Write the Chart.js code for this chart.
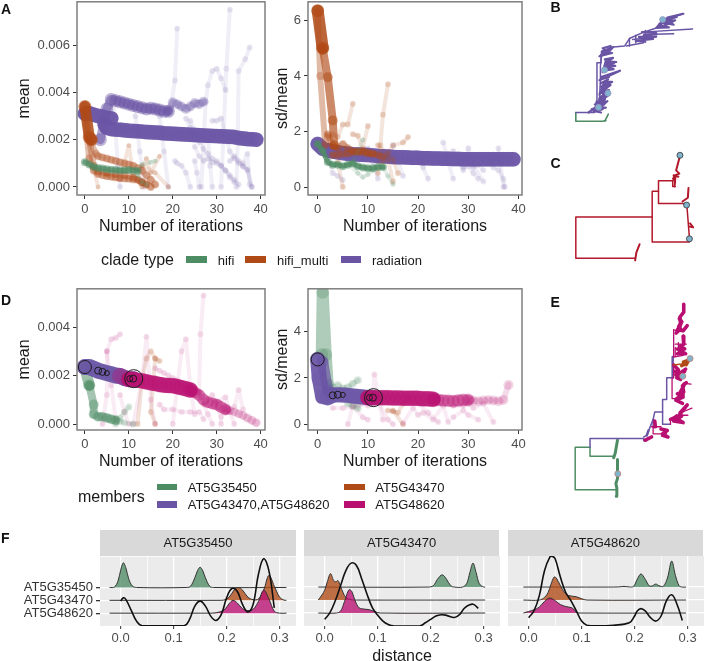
<!DOCTYPE html>
<html><head><meta charset="utf-8">
<script src="https://cdn.jsdelivr.net/npm/chart.js@4"></script>
<style>
html,body{margin:0;padding:0;background:#fff;width:710px;height:661px;overflow:hidden;font-family:"Liberation Sans",Arial,sans-serif}
canvas{position:absolute;filter:blur(.35px)}
.t{position:absolute;white-space:nowrap;color:#1a1a1a;line-height:1;transform:translateY(-50%);filter:blur(.25px)}
.l{font-weight:bold;font-size:14px;color:#111}
.s{position:absolute;width:20.5px;height:6.5px}
.strip{position:absolute;background:#D9D9D9;color:#1a1a1a;font-size:13px;text-align:center;filter:blur(.25px)}
</style></head><body>
<script>
/* ---------- colours ---------- */
const GREEN='78,140,100', ORANGE='176,74,22', PURPLE='106,85,165', MAGENTA='184,15,113', RED='178,24,43';

/* ---------- tick values ---------- */
const iterTicks=[0,10,20,30,40];
const meanTicksA=[0,0.002,0.004,0.006];
const sdTicksA=[0,2,4,6];
const meanTicksD=[0,0.002,0.004];
const sdTicksD=[0,2,4];
const distTicks=[0,0.05,0.1,0.15,0.2,0.25,0.3];
const ridgeNames=['AT5G48620','AT5G43470','AT5G35450'];
const cladeTypes=['hifi','hifi_multi','radiation'];
const memberNames=['AT5G35450','AT5G43470,AT5G48620','AT5G43470','AT5G48620'];

/* ---------- panel A: mean, clade type ---------- */
const aRadMain1=[[0,.0031],[1,.00312],[2,.00305],[3,.003],[4,.00297],[5,.00292],[6,.0029]];
const aRadMain2=[[4.5,.00265],[5,.0025],[6,.00245],[7,.00243],[8,.00242],[9,.0024],[10,.00238],[11,.00237],[12,.00236],[13,.00234],[14,.00232],[15,.00231],[16,.0023],[17,.00229],[18,.00227],[19,.00226],[20,.00225],[21,.00224],[22,.00223],[23,.00222],[24,.00221],[25,.0022],[26,.00219],[27,.00218],[28,.00217],[29,.00216],[30,.00215],[31,.00214],[32,.00213],[33,.00212],[34,.00211],[35,.00207],[36,.00205],[37,.00203],[38,.00202],[39,.002]];
const aRadArc=[[3.5,.002],[5,.0033],[6,.0037],[7,.00365],[8,.0036],[9,.00355],[10,.0035],[11,.00345],[12,.0034],[13,.00335],[14,.0033],[15,.00333],[16,.0033],[17,.00325],[18,.0032],[19,.0032]];
const aRadArc2=[[19,.0032],[20,.00358],[21,.0035],[22,.0034],[23,.0033],[24,.0034],[25,.00355],[26,.0035],[27,.0036]];
const aRadFaint=[
 [[19.5,.0033],[20.5,.0045],[21,.0067]],
 [[31,0],[31.5,.002],[32.2,.005],[33,.0075]],
 [[34.5,0],[34.8,.002],[35,.0049],[36.5,.0054],[37.5,.0059]],
 [[26.5,0],[27.5,.0036],[28,.0043],[29,.0049],[30,.005],[31,.0046],[32,.0041]],
 [[6.5,.0037],[7.5,.0009],[8,0]],
 [[11.5,.003],[12.5,.0015],[13.5,0]],
 [[17,.003],[18,.0015],[19,.0]],
 [[20.5,.0011],[21,.001],[22,.0009],[23,.0006],[24,0]],
 [[24,.0028],[25,.0024],[26,.0019],[27,.0016],[28,.0014],[29,.0012],[30,.0011],[31,.0009],[32,.0007],[33,.0005],[34,.0003],[35,.0001]],
 [[25,.0017],[26,.0013],[27,.0011],[28,.0012],[29,.00105],[30,.001],[31,.0009],[32,.0007],[33,.0004],[34,.0002]],
 [[29,.0028],[30,.0028],[31,.0029],[32,.0022],[33,.0015],[34,.0012],[35,.001],[36,.00085],[37,.00075],[38,0]],
 [[36,.001],[37,.0014],[37.5,.0001]],
 [[33,.0011],[34,.0013],[35,.0011],[36,.0009],[37,.0007],[38,0]],
 [[25,.0011],[25.5,.0006],[26,0]],
 [[28,.0022],[28.5,.0009],[29,0]],
 [[24,.0025],[23,.0029],[25,.002]]
];
const aOrangeBig=[[0,.0034],[1,.0021],[1.5,.002]];
const aOrangeMid=[
 [[0,.0033],[1,.002],[2.5,.0014],[3,.0013],[4,.00125],[5,.0012],[6,.00115],[7,.0011],[8,.00105],[9,.001],[10,.00095],[11,.0009],[12,.0008],[13,.0007],[14,.0005],[15,.0003],[16,.0001]],
 [[0,.0031],[1,.0012],[2,.0007],[3,.00055],[4,.0005],[5,.00045],[6,.00043],[7,.0004],[8,.00038],[9,.00036],[10,.00035],[11,.00032],[12,.0003],[13,.0002],[14,.0001]],
 [[1,.002],[2,.0009],[3,.00065],[5,.0006],[7,.00055],[9,.0005],[11,.0004],[13,.0002],[15,0]]
];
const aOrangeFaint=[
 [[2,.0008],[3,0]],
 [[5,.0005],[8,.0003],[10,.00175],[11,.0005],[13,0]],
 [[12,.0003],[14,.0012],[15,.0006],[17,.0013]],
 [[13,.0009],[16,.0006],[19,0]]
];
const aGreenMain=[[0,.00105],[1,.00095],[2,.00085],[3,.0008],[4,.00078],[5,.00075],[6,.00073],[7,.00072],[8,.0007],[9,.00071],[10,.00072],[11,.0007],[12,.00068]];
const aGreenFaint=[
 [[12,.0007],[13,.00095],[15,.00105],[16,.0011]],
 [[12,.0005],[13,.0002],[14,.0001]]
];

/* ---------- panel A2: sd/mean, clade type ---------- */
const bRadMain=[[0,1.55],[1,1.38],[2,1.32],[3,1.28],[4,1.25],[5,1.22],[6,1.2],[7,1.18],[8,1.17],[9,1.16],[10,1.15],[11,1.14],[12,1.12],[13,1.11],[14,1.1],[15,1.08],[16,1.07],[17,1.07],[18,1.06],[19,1.05],[20,1.05],[21,1.04],[22,1.04],[23,1.03],[24,1.03],[25,1.02],[26,1.02],[27,1.01],[28,1.01],[29,1],[30,1],[31,1],[32,1],[33,1],[34,1],[35,1],[36,1],[37,1],[38,1],[39,1]];
const bRadFaint=[
 [[1,1.5],[2,1.05],[3,.5],[4,.4],[5,.25]],
 [[10,1.4],[11,.9],[12,.3]],
 [[15,1.5],[16,1],[17,.4]],
 [[20,1.2],[21,.7],[22,.3]],
 [[25,1.6],[26,.9],[27,.3]],
 [[27,1.3],[28,.9],[29,.7],[30,.75],[31,.5],[32,.3]],
 [[28,1.1],[29,.6],[30,1.4],[31,.8],[33,.2]],
 [[30,.9],[31,.7],[32,.8],[33,.6]],
 [[34,1.1],[35,.7],[36,.6],[37,.3],[37.3,0]],
 [[36,1.4],[37,0]]
];
const bOrangeBig=[[0,6.35],[1,5]];
const bOrangeMid=[[1,5],[2,3.95],[3,2.4],[3.3,1.5]];
const bOrangeLow=[
 [[0,6.3],[0.5,4],[1.5,1.5],[2,1.8]],
 [[2,1.9],[3,1.5],[4,1.4],[5,1.55],[6,1.4],[7,1.3],[8,1.25],[9,1.25],[10,1.25],[11,1.2],[12,1.15],[13,1.1]],
 [[3,1.15],[4,1.15],[5,1.2],[6,1.2],[7,1.25],[8,1.3],[9,1.3],[10,1.2],[11,1.2]]
];
const bOrangeFaint=[
 [[3,1.9],[4,1.8],[5,2.25],[6,2.25],[7,3]],
 [[7,1.9],[8,1.85],[9,1.4],[10,2.2]],
 [[12,.5],[12.5,1.5],[13,2.6],[14,3.7]],
 [[12,1.5],[14,1.2],[15,1],[16,.5]],
 [[13,.9],[15,1.5],[17,1.6],[18,1.8]],
 [[14,1],[15,.2]],
 [[4,.9],[5,0]]
];
const bGreenMain=[[0,1.55],[1,1.3],[2,.9],[3,.8],[4,.8],[5,.75],[6,.8],[7,.85],[8,.75],[9,.7],[10,.68],[11,.68],[12,.72],[13,.72]];
const bGreenFaint=[
 [[6,.85],[8,.5],[9,.35],[10,.45],[11,.6],[13,.7],[14,.4],[15,.1]],
 [[7,.9],[9,1.7]]
];

/* ---------- panel D: mean, members ---------- */
const dPurpleMain=[[0,.00235],[1,.00235],[2,.00228],[3,.0022],[4,.00215],[5,.0021],[6,.00205],[7,.002],[8,.00198],[9,.0019],[10,.00185],[11,.00185]];
const dMagentaBlend=[[8,.00198],[9,.0019],[10,.00185]];
const dMagentaMain=[[10,.00185],[11,.00185],[12,.0018],[13,.00178],[14,.00174],[15,.0017],[16,.00167],[17,.00163],[18,.0016],[19,.00159],[20,.00158],[21,.00154],[22,.0015],[23,.00145],[24,.0014]];
const dMagentaMid=[[24,.0014],[25,.0013],[26,.0012],[27,.001],[28,.0009],[29,.00085],[30,.0008],[31,.0007],[32,.0006]];
const dMagentaTail=[[32,.0006],[33,.00055],[34,.0005],[35,.00042],[36,.00035],[37,.00025],[38,.00015],[39,.00005]];
const dMagentaFaint=[
 [[4,.0],[5,.0012],[5,.003],[6,.0035],[7,.00355],[8,.0037]],
 [[5,.003],[6,.0016],[7,.0002]],
 [[8,.0012],[9,.0005],[10,0]],
 [[11,.0],[13,.0018],[14,.0036],[15,.001],[16,0]],
 [[16,.0023],[17,.0022],[18,.0021],[19,.002],[20,.0019],[21,.0018],[22,.0017],[23,.0016]],
 [[17,.0008],[18,.0006],[20,.0006],[22,.0005],[24,.0005],[26,.0005],[27,.0002]],
 [[20,.0],[22,.003],[23,.0035],[24,.0015],[25,.0004]],
 [[24,.0016],[26,.0013],[26.3,.0037],[27,.0053]],
 [[26,.0013],[28,.0004],[29,.0]],
 [[30,.0009],[32,.0011],[33,.0005],[34,0]],
 [[32,.0005],[34,.0007],[35,.0014],[36,.0006]],
 [[27,.0008],[29,.0012],[31,.0003],[31,0]]
];
const dOrangeFaint=[
 [[12,0],[13,.0018],[14,.0027],[15,.003],[16,.0027],[17,.0026]],
 [[16,.0027],[15,.0005],[16,0]]
];
const dGreenBig=[[0,.0023],[1,.0016]];
const dGreenMid=[[1,.0016],[2,.0008],[2,.0004],[3,.0003],[4,.0003],[5,.00025],[6,.0002],[7,.00015]];
const dGreenFaint=[
 [[7,.0002],[8,.00025],[9,.0005],[10,.0007]],
 [[7,0],[8,.0001],[9,.00005],[11,0]]
];
const dCircles=[[0,.00235],[3,.0022],[4,.00215],[5,.0021],[10.2,.00187],[11,.00187],[11.1,.00187]];

/* ---------- panel D2: sd/mean, members ---------- */
const ePurpleMain=[[0,2.8],[0.3,2],[1,1.2],[2,1.15],[3,1.25],[4,1.28],[5,1.27],[6,1.25],[7,1.22],[8,1.2],[9,1.18],[10,1.15],[11,1.15]];
const ePurpleLight=[[1,2.7],[2,1.45],[3,1.35]];
const eMagentaMain=[[10,1.15],[11,1.15],[12,1.15],[13,1.15],[14,1.15],[15,1.14],[16,1.14],[17,1.13],[18,1.13],[19,1.13],[20,1.12],[21,1.1],[22,1.1],[23,1.08]];
const eMagentaMid=[[23,1.08],[24,1.05],[25,1.03],[26,1.02],[27,1],[28,1.03],[29,1.05],[30,1.05]];
const eMagentaTail=[[30,1.05],[31,1.02],[32,1],[33,1.03],[34,1.05],[35,1.03],[36,1],[37,1.05],[38,1.7]];
const eMagentaFaint=[
 [[3,.7],[5,.7],[7,.75],[8,.8],[9,.9],[10,.8],[11,1.3],[11.3,2.15],[12,1.2],[13,.2]],
 [[6,0],[7,.8],[9,.3],[10,.2]],
 [[12,1],[14,.2],[15,0]],
 [[17,.05],[19,.7],[20,.4],[21,.5],[23,.2],[25,.8],[26,.1]],
 [[27,.8],[29,.8],[30,.9],[31,.7],[33,.9],[35,.1]],
 [[20,.9],[22,.5],[24,.1]],
 [[27,.3],[29,.6],[30,.4],[32,.2]]
];
const eOrangeFaint=[
 [[14,.6],[15,.55],[16,.5],[17,.9],[18,1.1]],
 [[17,0],[15,.6]]
];
const eGreenBig=[[0.8,3],[1,5.7],[1.6,3],[2,1.7]];
const eGreenFaint=[
 [[2,1.7],[3,1.6],[4,1.7],[5,1.55],[6,1.6],[7,1.75],[8,1.9]],
 [[6,.9],[7,.8],[8,.7]]
];
const eCircles=[[0,2.8],[3,1.25],[4,1.28],[5,1.27],[10.3,1.15],[11,1.15],[11.1,1.15]];
const circleSizes=[6.5,3.5,3.5,2.5,3,3.5,9];

/* ---------- trees (branch position, tip rank) ---------- */
const treeBPurple=[
 [[130,335],[190,335],[195,300],[205,300],[207,250],[208,190],[212,155],[240,132],[285,128],[300,105],[345,85],[385,72],[405,48],[435,38],[472,28]],
 [[197,300],[197,180],[210,180],[210,155]],
 [[340,85],[500,75]],[[345,92],[440,90]],[[310,108],[385,100]],[[290,128],[345,118]],[[300,105],[300,128]],[[320,95],[320,118]],[[350,80],[350,105]]
];
const treeBTufts=[
 [[385,72],[400,55],[440,62],[410,45],[470,28],[420,40],[395,65],[425,70],[385,72]],
 [[395,60],[430,50],[405,68],[445,48],[400,52],[450,38]],
 [[340,85],[385,88],[345,96],[385,98],[330,100],[375,106],[320,112],[350,115]],
 [[205,160],[245,150],[212,145],[248,132],[225,155],[240,140],[210,155],[235,150],[215,135],[240,128]],
 [[208,158],[230,142],[212,150],[238,136]],
 [[215,210],[225,175],[258,178],[222,185],[255,190],[220,195],[250,200],[218,205]],
 [[222,170],[248,165],[226,180],[250,182],[224,192],[240,196]],
 [[205,235],[270,205],[210,225],[245,215],[208,232],[235,225]],
 [[205,280],[220,240],[245,240],[210,255],[240,250],[210,270],[235,265],[205,290],[235,280],[207,300],[220,285]],
 [[208,245],[232,232],[212,262],[228,258],[206,275],[226,272],[204,295],[222,292]],
 [[170,335],[200,315],[225,320],[180,325],[220,310],[190,310],[230,300],[195,330],[215,325]],
 [[192,318],[212,300],[196,305],[222,295],[186,330],[210,335]]
];
const treeBGreen=[[[130,335],[130,362],[215,362],[225,360]],[[222,362],[233,340]]];
const treeBDots=[[405,46],[221,203],[232,275],[202,319]];
const treeCRed=[
 [[318,788],[130,788],[130,660],[372,660],[372,580],[392,580],[392,547],[437,547],[437,565],[445,565]],
 [[392,580],[392,618],[470,618],[480,625]],
 [[372,660],[372,738],[490,738],[490,728]],
 [[482,625],[490,725]]
];
const treeCTufts=[
 [[318,795],[322,770],[332,745]],
 [[443,565],[446,530],[458,525],[448,515],[460,470]],
 [[438,540],[445,552],[440,530],[455,535]],
 [[468,612],[485,600],[487,570]],
 [[490,690],[502,692],[492,680]]
];
const treeCDots=[[460,468],[481,623],[490,728]];
const treeEGreen=[
 [[258,625],[128,625],[128,492],[175,492],[175,520],[250,520]]
];
const treeEGreenTufts=[[[250,525],[255,510],[262,470]],[[258,645],[260,620],[257,605],[262,590],[262,530]]];
const treeEPurple=[
 [[175,492],[175,465],[345,465],[345,472],[355,472]],
 [[345,460],[355,455],[375,405],[380,382],[405,382],[405,343],[418,343],[418,275],[437,275],[437,210]],
 [[375,405],[375,430]],[[405,382],[405,420],[430,420]]
];
const treeEMagenta=[
 [[370,428],[400,428]],[[375,430],[375,450],[410,450]],
 [[430,420],[430,405],[450,390]],
 [[435,275],[435,340],[455,340]],
 [[440,125],[440,210]],[[440,210],[470,205]],[[445,170],[480,170]],[[440,125],[460,130]],[[445,180],[445,205]],[[455,165],[455,195]],
 [[440,235],[440,275]],[[470,292],[495,295]],[[460,385],[498,370]],[[465,392],[485,392]]
];
const treeEMagentaTufts=[
 [[472,45],[472,70],[460,85],[462,110],[452,125],[470,128],[483,112]],
 [[458,90],[466,100],[456,115],[462,122],[448,135]],
 [[470,145],[472,170],[462,175],[475,185],[452,185],[478,200],[452,200]],
 [[440,235],[455,250],[447,265],[475,255],[450,275],[462,280]],
 [[445,255],[470,262],[450,268],[478,248]],
 [[480,290],[468,300],[472,320],[452,325],[470,335],[447,345],[468,355]],
 [[472,300],[462,318],[470,328],[450,340]],
 [[430,405],[455,395],[483,360],[460,385],[465,395],[440,410],[470,415],[445,400]],
 [[400,435],[420,440],[405,450],[422,460],[405,455],[415,445]],
 [[350,470],[370,460]],[[380,410],[382,428]]
];
const treeEOrange=[[[440,235],[465,232],[480,225]]];
const treeEOrangeTufts=[[[465,238],[478,232],[470,225],[490,218],[480,235]]];
const treeEDots=[[492,215],[469,270],[263,575]];
const treeEPurpleThick=[[[437,210],[437,275]],[[355,455],[360,440]]];

/* ---------- panel F: ridgelines (height above each baseline) and density ---------- */
const f1Green=[[-.021,0],[-.012,.03],[-.005,.5],[0,1.35],[.005,1.92],[.01,1.5],[.015,.7],[.022,.12],[.03,0],[.125,0],[.132,.1],[.14,.75],[.145,1.3],[.15,1.58],[.155,1.3],[.16,.75],[.168,.1],[.175,0],[.313,0]];
const f1Orange=[[-.021,0],[.19,0],[.197,.05],[.205,.25],[.215,.85],[.222,1],[.23,.8],[.24,.25],[.25,.05],[.26,.1],[.27,.8],[.28,1.95],[.29,1.1],[.3,.25],[.308,.02],[.313,0]];
const f1Magenta=[[-.021,0],[.165,0],[.18,.03],[.195,.25],[.205,.75],[.212,1],[.22,.8],[.23,.35],[.24,.2],[.25,.3],[.26,.9],[.27,1.8],[.28,1.1],[.29,.15],[.3,0],[.313,0]];
const f1Density=[[0,1.94],[.005,2.19],[.01,2.06],[.02,1.21],[.03,.38],[.04,.04],[.12,.04],[.13,.51],[.14,1.55],[.15,1.94],[.16,1.55],[.17,.77],[.18,.43],[.19,.9],[.2,2.19],[.21,2.92],[.22,2.71],[.23,1.68],[.24,1.1],[.25,1.68],[.26,4.01],[.27,5.23],[.28,4.27],[.29,1.42]];
const f2Green=[[-.012,0],[.195,0],[.205,.1],[.213,.6],[.222,.94],[.23,.6],[.238,.1],[.245,0],[.26,0],[.268,.25],[.274,1.1],[.28,1.84],[.286,1.1],[.292,.25],[.3,0],[.303,0]];
const f2Orange=[[-.012,0],[-.005,.4],[0,.75],[.005,1.4],[.011,2.03],[.017,1.5],[.021,1.4],[.025,1.5],[.03,1.05],[.035,.55],[.04,.2],[.05,.02],[.06,0],[.303,0]];
const f2Magenta=[[-.012,0],[.022,0],[.03,.15],[.035,.6],[.04,1.2],[.045,1.75],[.048,1.8],[.052,1.6],[.057,1],[.065,.4],[.075,.3],[.085,.25],[.095,.1],[.105,0],[.303,0]];
const f2Density=[[0,.51],[.01,1.03],[.02,1.94],[.03,3.1],[.04,4.27],[.05,4.84],[.06,4.66],[.07,3.62],[.08,2.45],[.09,1.42],[.1,.84],[.11,.38],[.12,.12],[.13,.01],[.18,.01],[.19,.25],[.2,.51],[.21,.77],[.22,.87],[.23,.82],[.245,.66],[.255,.9],[.265,1.42],[.28,1.68],[.29,1.36]];
const f3Green=[[-.01,0],[.15,0],[.17,.01],[.18,.05],[.19,.01],[.198,.05],[.205,.6],[.212,1.01],[.22,.6],[.228,.08],[.234,.1],[.24,.23],[.246,.1],[.254,.05],[.262,.7],[.27,2],[.277,.9],[.284,.1],[.29,0],[.297,0]];
const f3Orange=[[-.01,0],[.02,0],[.03,.2],[.037,.6],[.042,1.2],[.048,1.77],[.052,1.7],[.06,1.1],[.068,.55],[.075,.35],[.09,.25],[.1,.1],[.11,0],[.297,0]];
const f3Magenta=[[-.01,0],[0,.12],[.01,.25],[.02,.45],[.03,.9],[.04,1.15],[.05,.95],[.06,.65],[.07,.5],[.08,.42],[.085,.3],[.09,.05],[.095,0],[.297,0]];
const f3Density=[[0,.64],[.01,1.16],[.02,2.32],[.03,4.27],[.04,5.31],[.045,5.36],[.05,5.18],[.06,3.75],[.07,2.58],[.08,1.94],[.09,1.16],[.1,.38],[.11,.06],[.13,.01],[.16,.06],[.19,.25],[.2,.77],[.205,1.16],[.212,1.34],[.22,1.16],[.23,.64],[.24,.38],[.25,.77],[.26,1.94],[.27,2.4],[.28,1.68],[.29,.43]];

/* ---------- helpers ---------- */
const pts=a=>a.map(([x,y])=>({x,y}));
function traj(a,c,al,w,r,pa){
  return {data:pts(a),showLine:true,borderColor:`rgba(${c},${al})`,borderWidth:w,borderCapStyle:'round',borderJoinStyle:'round',
    backgroundColor:`rgba(${c},${pa===undefined?al:pa})`,pointRadius:r,pointHoverRadius:r,pointBorderWidth:0};
}
const faint=(list,c,al,w,r,pa)=>list.map(a=>traj(a,c,al,w,r,pa));
const panelFrame={id:'panelFrame',afterDatasetsDraw(ch){const o=ch.options.plugins.panelFrame;if(!o||!o.color)return;const a=ch.chartArea,g=ch.ctx;g.save();g.strokeStyle=o.color;g.lineWidth=o.width;g.strokeRect(a.left,a.top,a.width,a.height);g.restore();},
 beforeDraw(ch){const o=ch.options.plugins.panelFrame;if(!o||!o.fill)return;const a=ch.chartArea;ch.ctx.save();ch.ctx.fillStyle=o.fill;ch.ctx.fillRect(a.left,a.top,a.width,a.height);ch.ctx.restore();}};
Chart.register(panelFrame);
function mk(left,top,w,h){const c=document.createElement('canvas');c.width=Math.ceil(w);c.height=Math.ceil(h);c.style.left=left+'px';c.style.top=top+'px';c.style.width=Math.ceil(w)+'px';c.style.height=Math.ceil(h)+'px';document.body.appendChild(c);return c;}
const font=(s)=>({family:'"Liberation Sans",Arial,sans-serif',size:s});
const PADTOP=10;
function scatterPanel(o){
  const R=12;const [x0,y0,x1,y1]=o.box;
  const c=mk(x0-o.gl,y0-PADTOP,o.gl+(x1-x0)+R,PADTOP+(y1-y0)+o.gb);
  new Chart(c,{type:'scatter',data:{datasets:o.ds.slice().reverse()},options:{responsive:false,animation:false,
    layout:{padding:{left:0,right:R,top:PADTOP,bottom:0}},
    plugins:{legend:{display:false},tooltip:{enabled:false},panelFrame:{color:'#7f7f7f',width:1.5}},
    scales:{
      x:{type:'linear',min:o.xr[0],max:o.xr[1],afterBuildTicks(s){s.ticks=iterTicks.map(v=>({value:v}));},afterFit(s){s.height=o.gb;},
        ticks:{font:font(13),color:'#4d4d4d',padding:3,maxRotation:0,autoSkip:false,callback:v=>String(v)},
        grid:{drawOnChartArea:false,tickLength:4,color:'#333',lineWidth:1},border:{display:false},
        title:{display:true,text:'Number of iterations',font:font(16),color:'#1a1a1a',padding:0}},
      y:{type:'linear',min:o.yr[0],max:o.yr[1],afterBuildTicks(s){s.ticks=o.yt.map(v=>({value:v}));},afterFit(s){s.width=o.gl;},
        ticks:{font:font(13),color:'#4d4d4d',padding:3,autoSkip:false,callback:o.fmt},
        grid:{drawOnChartArea:false,tickLength:4,color:'#333',lineWidth:1},border:{display:false},
        title:{display:true,text:o.yt2,font:font(16),color:'#1a1a1a',padding:0}}
    }}});
}
const f3=v=>v.toFixed(3), f0=v=>String(v);

/* ---------- panels ---------- */
scatterPanel({box:[77,1,265,195],gl:62,gb:41,xr:[-1.8,41],yr:[-.00034,.00783],yt:meanTicksA,fmt:f3,yt2:'mean',ds:[
  ...faint(aRadFaint,PURPLE,.1,4,3,.13),
  traj(aRadArc2,PURPLE,.35,7,5,.3),
  traj(aRadArc,PURPLE,.55,9,6.5,.45),
  traj(aRadMain1,PURPLE,.92,14.5,7.5,.3),
  traj(aRadMain2,PURPLE,.92,14.5,7.5,.3),
  ...faint(aOrangeFaint,ORANGE,.15,4,2.5,.2),
  ...faint(aOrangeMid,ORANGE,.35,6.5,4,.3),
  traj(aOrangeBig,ORANGE,.85,11,6.5,.6),
  ...faint(aGreenFaint,GREEN,.15,4,2.5,.2),
  traj(aGreenMain,GREEN,.7,5,4,.5)
]});
scatterPanel({box:[308,1,522,195],gl:35,gb:41,xr:[-1.93,40.7],yr:[-.287,6.67],yt:sdTicksA,fmt:f0,yt2:'sd/mean',ds:[
  ...faint(bRadFaint,PURPLE,.1,4,3,.13),
  traj(bRadMain,PURPLE,.92,14.5,7.5,.3),
  ...faint(bOrangeFaint,ORANGE,.15,4,3,.2),
  ...faint(bOrangeLow,ORANGE,.38,6,4,.3),
  traj(bOrangeMid,ORANGE,.65,8,5,.5),
  traj(bOrangeBig,ORANGE,.85,12,6.5,.6),
  ...faint(bGreenFaint,GREEN,.15,4,2.5,.2),
  traj(bGreenMain,GREEN,.8,5,4,.5)
]});
function circleSet(a){return {data:pts(a),showLine:false,borderColor:'#1a1a1a',borderWidth:1,backgroundColor:'rgba(0,0,0,0)',pointBorderWidth:1,pointBorderColor:'#1a1a1a',pointBackgroundColor:'rgba(0,0,0,0)',pointRadius:circleSizes};}
scatterPanel({box:[77,287.5,265,429],gl:62,gb:41,xr:[-1.8,41],yr:[-.000247,.005576],yt:meanTicksD,fmt:f3,yt2:'mean',ds:[
  ...faint(dOrangeFaint,ORANGE,.16,4,3,.18),
  ...faint(dMagentaFaint,MAGENTA,.08,4,3,.12),
  ...faint(dGreenFaint,GREEN,.15,4,3.5,.2),
  traj(dGreenMid,GREEN,.5,8,5,.4),
  traj(dGreenBig,GREEN,.55,11,6,.4),
  traj(dPurpleMain,PURPLE,.92,16,8,.3),
  traj(dMagentaBlend,MAGENTA,.3,16,8,.1),
  traj(dMagentaTail,MAGENTA,.15,7,4.5,.18),
  traj(dMagentaMid,MAGENTA,.45,11,6,.3),
  traj(dMagentaMain,MAGENTA,.85,15,8,.3),
  circleSet(dCircles)
]});
scatterPanel({box:[308,287.5,522,429],gl:35,gb:41,xr:[-1.93,40.7],yr:[-.246,5.85],yt:sdTicksD,fmt:f0,yt2:'sd/mean',ds:[
  ...faint(eOrangeFaint,ORANGE,.16,4,3,.18),
  ...faint(eMagentaFaint,MAGENTA,.08,4,3,.12),
  ...faint(eGreenFaint,GREEN,.2,5,4,.2),
  traj(eGreenBig,GREEN,.45,12,6.5,.3),
  traj(ePurpleLight,PURPLE,.7,11,6,.4),
  traj(ePurpleMain,PURPLE,.92,15,8,.3),
  traj(eMagentaTail,MAGENTA,.15,6,5,.18),
  traj(eMagentaMid,MAGENTA,.42,11,6.5,.3),
  traj(eMagentaMain,MAGENTA,.85,15,8,.3),
  circleSet(eCircles)
]});

/* ---------- trees ---------- */
function branch(list,c,w){return list.map(a=>({data:pts(a),showLine:true,borderColor:`rgb(${c})`,borderWidth:w,pointRadius:0,borderCapStyle:'round',borderJoinStyle:'round'}));}
function dots(a,stroke){return {data:pts(a),showLine:false,backgroundColor:'rgb(127,180,204)',borderColor:stroke,pointRadius:3,pointBorderWidth:.8,pointBorderColor:stroke,pointBackgroundColor:'rgb(127,180,204)'};}
function tree(top,h,ds){
  const c=mk(530,top,180,h);
  new Chart(c,{type:'scatter',data:{datasets:ds.slice().reverse()},options:{responsive:false,animation:false,layout:{padding:0},
    plugins:{legend:{display:false},tooltip:{enabled:false}},
    scales:{x:{type:'linear',display:false,min:0,max:540},y:{type:'linear',display:false,reverse:true,min:0,max:h*3}}}});
}
tree(0,270,[
  ...branch(treeBGreen,GREEN,1.6),
  ...branch(treeBPurple,PURPLE,1.5),
  ...branch(treeBTufts,PURPLE,2.2),
  dots(treeBDots,'rgb(150,150,200)'),
  ...branch(treeCRed,RED,1.5),
  ...branch(treeCTufts,RED,2),
  dots(treeCDots,'#333')
]);
tree(285,240,[
  ...branch(treeEGreen,GREEN,1.5),
  ...branch(treeEGreenTufts,GREEN,3),
  ...branch(treeEPurple,PURPLE,1.5),
  ...branch(treeEPurpleThick,PURPLE,2.5),
  ...branch(treeEMagenta,MAGENTA,1.3),
  ...branch(treeEMagentaTufts,MAGENTA,3.6),
  ...branch(treeEOrange,ORANGE,1.5),
  ...branch(treeEOrangeTufts,ORANGE,3),
  dots(treeEDots,'rgb(190,130,120)')
]);

/* ---------- ridgelines ---------- */
function ridge(a,base,c){return {data:a.map(([x,h])=>({x,y:base+h})),showLine:true,borderColor:'#333',borderWidth:1,pointRadius:0,tension:.35,backgroundColor:`rgba(${c},.78)`,fill:{value:base}};}
function dens(a){return {data:pts(a),showLine:true,borderColor:'#111',borderWidth:1.6,pointRadius:0,tension:.4,fill:false};}
function ridgePanel(x0,x1,labels,title,g,o,m,d){
  const top=555.7,bot=625;const gl=labels?100:0;const gb=title?40:24;const R=12;
  const c=mk(x0-gl,top-PADTOP,gl+(x1-x0)+R,(bot-top)+gb+PADTOP);
  new Chart(c,{type:'scatter',data:{datasets:[ridge(g,3,GREEN),ridge(o,2,ORANGE),ridge(m,1,MAGENTA),dens(d)].reverse()},options:{responsive:false,animation:false,
    layout:{padding:{left:0,right:R,top:PADTOP,bottom:0}},
    plugins:{legend:{display:false},tooltip:{enabled:false},panelFrame:{fill:'#EBEBEB'},filler:{propagate:false}},
    scales:{
      x:{type:'linear',min:-.039,max:.331,afterBuildTicks(s){s.ticks=distTicks.map(v=>({value:v}));},afterFit(s){s.height=gb;},
        ticks:{font:font(13),color:'#4d4d4d',padding:2,maxRotation:0,autoSkip:false,callback:v=>(Math.round(v*100)%10===0?v.toFixed(1):'')},
        grid:{tickLength:3,color:'#fff',lineWidth:c=>(Math.round(c.tick.value*100)%10===0?1.3:.7),tickColor:c=>(Math.round(c.tick.value*100)%10===0?'#333':'rgba(0,0,0,0)'),tickWidth:1},border:{display:false},
        title:{display:!!title,text:title||'',font:font(16),color:'#1a1a1a',padding:0}},
      y:{type:'linear',min:0,max:5.39,afterBuildTicks(s){s.ticks=[1,2,3].map(v=>({value:v}));},afterFit(s){s.width=gl;},
        ticks:{display:!!labels,font:font(13),color:'#333',padding:3,autoSkip:false,callback:v=>ridgeNames[v-1]},
        grid:{color:'#fff',lineWidth:1.3,tickLength:labels?4:0,drawTicks:!!labels,tickColor:'#333',tickWidth:1.3},border:{display:false}}
    }}});
}
ridgePanel(100,296,true,null,f1Green,f1Orange,f1Magenta,f1Density);
ridgePanel(304,499.3,false,'distance',f2Green,f2Orange,f2Magenta,f2Density);
ridgePanel(507.7,703,false,null,f3Green,f3Orange,f3Magenta,f3Density);

/* ---------- real-text labels, strips and legends ---------- */
function text(s,x,y,size,cls){const d=document.createElement('div');d.className='t '+(cls||'');d.textContent=s;d.style.left=x+'px';d.style.top=y+'px';if(size)d.style.fontSize=size+'px';document.body.appendChild(d);}
function swatch(x,y,c){const d=document.createElement('div');d.className='s';d.style.left=x+'px';d.style.top=(y-3.25)+'px';d.style.background=`rgb(${c})`;document.body.appendChild(d);}
[['A',1,9],['B',550.5,7],['C',550.5,163],['D',1,300],['E',550.5,302],['F',1,538]].forEach(([s,x,y])=>text(s,x,y,0,'l'));
[[100,296],[304,499.3],[507.7,703]].forEach(([a,b],i)=>{const d=document.createElement('div');d.className='strip';d.textContent=['AT5G35450','AT5G43470','AT5G48620'][i];
  d.style.cssText+=`left:${a}px;top:530px;width:${b-a}px;height:25.7px;line-height:26px`;document.body.appendChild(d);});
text('clade type',101,259.7,16);
[[186.3,GREEN,217.7],[245.3,ORANGE,277],[340.7,PURPLE,372]].forEach(([x,c,tx],i)=>{swatch(x,259.7,c);text(cladeTypes[i],tx,259.7,13);});
text('members',78,496.7,16);
[[156.7,487,GREEN,187.7],[156.7,504.3,PURPLE,187.7],[344,487,ORANGE,375.3],[344,504.3,MAGENTA,375.3]].forEach(([x,y,c,tx],i)=>{swatch(x,y,c);text(memberNames[i],tx,y,13);});
</script>
</body></html>
